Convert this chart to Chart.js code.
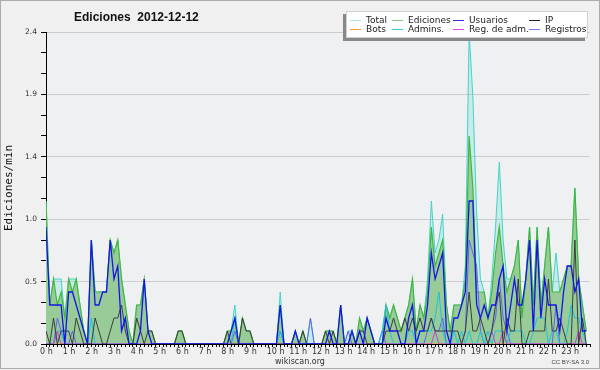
<!DOCTYPE html>
<html>
<head>
<meta charset="utf-8">
<script src="https://cdn.jsdelivr.net/npm/chart.js@4.4.1/dist/chart.umd.min.js"></script>
<style>
  html, body { margin: 0; padding: 0; background: #f0f0f0; }
  #wrap { position: relative; width: 600px; height: 370px; overflow: hidden; background: #f0f0f0; }
  #c { position: absolute; left: 0; top: 0; }
  #title { position: absolute; left: 74px; top: 10px; font: bold 12px "Liberation Sans", Arial, sans-serif; color: #111; white-space: pre; line-height: 14px; }
  #legend { position: absolute; left: 346px; top: 11px; width: 242px; height: 27px; background: #fff; border: 1px solid #d0d0d0; box-shadow: -3px 3px 0 #888; box-sizing: border-box; }
  .li { position: absolute; height: 10px; font: 9px "DejaVu Sans", sans-serif; color: #222; line-height: 10px; white-space: nowrap; }
  .li span.sw { position: absolute; left: 0; top: 5px; width: 11px; height: 1px; }
  .li span.tx { position: absolute; left: 16px; top: 0; }
  #foot { position: absolute; left: 0; width: 600px; top: 356px; text-align: center; font: 8px "DejaVu Sans", sans-serif; color: #333; line-height: 12px; }
  #cc { position: absolute; right: 11px; top: 357px; font: 6px "Liberation Sans", Arial, sans-serif; color: #444; line-height: 10px; }
  #frame { position: absolute; left: 0; top: 0; width: 600px; height: 369px; border: 1px solid #ababab; box-sizing: border-box; pointer-events: none; }
</style>
</head>
<body>
<div id="wrap">
  <canvas id="c" width="600" height="370"></canvas>
  <div id="title">Ediciones  2012-12-12</div>
  <div id="legend"></div>
  <div id="foot">wikiscan.org</div>
  <div id="cc">CC BY-SA 3.0</div>
  <div id="frame"></div>
</div>
<script>
// ---- categories / tick labels ----
const hourLabels = ["0 h","1 h","2 h","3 h","4 h","5 h","6 h","7 h","8 h","9 h","10 h","11 h",
  "12 h","13 h","14 h","15 h","16 h","17 h","18 h","19 h","20 h","21 h","22 h","23 h"];
const yTickLabels = ["0.0","0.5","1.0","1.4","1.9","2.4"];
const slotMinutes = Array.from({length: 144}, (_, i) => i * 10); // one slot every 10 minutes

// ---- series (edits per minute, one value per 10-minute slot, 6 per hour) ----
const total = [
  1.1,0.3,0.5,0.5,0.5,0.2,  0.5,0.5,0.5,0.3,0.1,0.0,  0.8,0.4,0.4,0.4,0.4,0.8,  0.7,0.8,0.5,0.3,0.1,0.0,
  0.3,0.3,0.5,0.1,0.1,0.0,  0.0,0.0,0.0,0.0,0.0,0.1,  0.1,0.0,0.0,0.0,0.0,0.0,  0.0,0.0,0.0,0.0,0.0,0.0,
  0.1,0.1,0.3,0.0,0.2,0.1,  0.1,0.0,0.0,0.0,0.0,0.0,  0.0,0.0,0.4,0.0,0.0,0.0,  0.1,0.0,0.1,0.0,0.2,0.0,
  0.0,0.0,0.1,0.1,0.1,0.0,  0.3,0.0,0.1,0.1,0.0,0.2,  0.1,0.2,0.1,0.0,0.0,0.1,  0.3,0.2,0.3,0.2,0.1,0.2,
  0.3,0.5,0.1,0.3,0.2,0.5,  1.1,0.7,0.8,1.0,0.3,0.1,  0.3,0.3,0.3,0.6,2.4,1.9,  1.0,0.5,0.4,0.2,0.5,0.9,
  1.4,0.8,0.5,0.5,0.6,0.8,  0.2,0.5,0.9,0.3,0.9,0.3,  0.6,0.9,0.4,0.7,0.4,0.5,  0.6,0.6,1.2,0.5,0.3,0.1
];
const ediciones = [
  1.1,0.3,0.5,0.3,0.4,0.2,  0.5,0.4,0.5,0.3,0.1,0.0,  0.8,0.4,0.4,0.4,0.4,0.8,  0.7,0.8,0.5,0.3,0.1,0.0,
  0.3,0.3,0.5,0.1,0.1,0.0,  0.0,0.0,0.0,0.0,0.0,0.1,  0.1,0.0,0.0,0.0,0.0,0.0,  0.0,0.0,0.0,0.0,0.0,0.0,
  0.1,0.1,0.2,0.0,0.2,0.1,  0.1,0.0,0.0,0.0,0.0,0.0,  0.0,0.0,0.3,0.0,0.0,0.0,  0.1,0.0,0.1,0.0,0.0,0.0,
  0.0,0.0,0.1,0.1,0.1,0.0,  0.3,0.0,0.0,0.1,0.0,0.2,  0.1,0.2,0.1,0.0,0.0,0.0,  0.3,0.2,0.3,0.2,0.1,0.2,
  0.3,0.5,0.1,0.3,0.2,0.4,  0.9,0.6,0.7,0.8,0.3,0.1,  0.3,0.3,0.3,0.5,1.6,1.2,  0.4,0.4,0.4,0.2,0.4,0.7,
  0.9,0.6,0.4,0.5,0.6,0.8,  0.2,0.5,0.9,0.3,0.9,0.3,  0.6,0.9,0.4,0.4,0.4,0.5,  0.6,0.6,1.2,0.5,0.3,0.1
];
const usuarios = [
  0.9,0.3,0.3,0.3,0.3,0.0,  0.4,0.4,0.3,0.2,0.1,0.0,  0.8,0.3,0.3,0.4,0.4,0.8,  0.5,0.6,0.1,0.2,0.0,0.0,
  0.0,0.1,0.5,0.1,0.0,0.0,  0.0,0.0,0.0,0.0,0.0,0.0,  0.0,0.0,0.0,0.0,0.0,0.0,  0.0,0.0,0.0,0.0,0.0,0.0,
  0.0,0.1,0.2,0.0,0.0,0.0,  0.0,0.0,0.0,0.0,0.0,0.0,  0.0,0.0,0.3,0.0,0.0,0.0,  0.1,0.0,0.0,0.0,0.0,0.0,
  0.0,0.0,0.0,0.1,0.0,0.0,  0.3,0.0,0.0,0.1,0.0,0.1,  0.0,0.2,0.1,0.0,0.0,0.0,  0.2,0.1,0.1,0.1,0.0,0.0,
  0.2,0.3,0.0,0.1,0.1,0.3,  0.7,0.5,0.6,0.7,0.1,0.0,  0.2,0.2,0.3,0.4,1.1,1.1,  0.3,0.2,0.3,0.2,0.3,0.3,
  0.5,0.6,0.1,0.3,0.5,0.3,  0.3,0.5,0.8,0.1,0.8,0.2,  0.5,0.3,0.3,0.3,0.1,0.4,  0.6,0.6,0.4,0.5,0.1,0.1
];
const ip = [
  0.1,0.0,0.2,0.0,0.1,0.1,  0.1,0.0,0.2,0.1,0.0,0.0,  0.0,0.2,0.1,0.0,0.0,0.1,  0.2,0.2,0.3,0.1,0.0,0.0,
  0.2,0.1,0.0,0.1,0.1,0.0,  0.0,0.0,0.0,0.0,0.0,0.1,  0.1,0.0,0.0,0.0,0.0,0.0,  0.0,0.0,0.0,0.0,0.0,0.0,
  0.1,0.0,0.0,0.0,0.2,0.1,  0.1,0.0,0.0,0.0,0.0,0.0,  0.0,0.0,0.0,0.0,0.0,0.0,  0.0,0.0,0.1,0.0,0.0,0.0,
  0.0,0.0,0.1,0.0,0.1,0.0,  0.0,0.0,0.0,0.0,0.0,0.1,  0.1,0.0,0.0,0.0,0.0,0.0,  0.1,0.1,0.2,0.1,0.1,0.2,
  0.1,0.2,0.1,0.2,0.1,0.1,  0.2,0.1,0.1,0.1,0.1,0.1,  0.1,0.1,0.0,0.1,0.4,0.1,  0.1,0.2,0.1,0.0,0.1,0.3,
  0.4,0.0,0.2,0.1,0.1,0.5,  0.0,0.0,0.1,0.1,0.1,0.1,  0.1,0.5,0.1,0.1,0.2,0.1,  0.0,0.0,0.8,0.0,0.2,0.0
];
const bots = [
  0,0,0,0,0,0, 0,0,0,0,0,0, 0,0,0,0,0,0, 0,0,0,0,0,0, 0,0,0,0,0,0, 0,0,0,0,0,0,
  0,0,0,0,0,0, 0,0,0,0,0,0, 0,0,0,0,0,0, 0,0,0,0,0,0, 0,0,0,0,0,0, 0,0,0,0,0,0,
  0,0,0,0,0,0, 0,0,0,0,0,0, 0,0,0,0,0,0, 0,0,0,0,0,0, 0,0,0,0,0,0, 0,0,0,0,0,0,
  0,0,0,0,0,0, 0,0,0,0,0,0, 0,0,0,0,0,0, 0,0,0,0,0,0, 0,0,0,0,0,0, 0,0,0,0,0,0
];
const admins = [
  0.0,0.0,0.0,0.1,0.1,0.0,  0.0,0.0,0.0,0.0,0.0,0.0,  0.2,0.0,0.0,0.0,0.0,0.0,  0.0,0.0,0.0,0.0,0.0,0.0,
  0.0,0.0,0.0,0.0,0.0,0.0,  0.0,0.0,0.0,0.0,0.0,0.0,  0.0,0.0,0.0,0.0,0.0,0.0,  0.0,0.0,0.0,0.0,0.0,0.0,
  0.0,0.0,0.2,0.0,0.0,0.0,  0.0,0.0,0.0,0.0,0.0,0.0,  0.0,0.0,0.1,0.0,0.0,0.0,  0.0,0.0,0.0,0.0,0.0,0.0,
  0.0,0.0,0.0,0.0,0.0,0.0,  0.0,0.0,0.0,0.0,0.0,0.0,  0.0,0.0,0.0,0.0,0.0,0.1,  0.3,0.1,0.0,0.0,0.0,0.0,
  0.1,0.1,0.0,0.1,0.1,0.1,  0.1,0.2,0.4,0.1,0.0,0.0,  0.1,0.0,0.1,0.0,0.1,0.0,  0.0,0.1,0.0,0.1,0.0,0.1,
  0.1,0.1,0.0,0.1,0.1,0.1,  0.1,0.0,0.0,0.1,0.2,0.2,  0.2,0.0,0.1,0.1,0.0,0.0,  0.1,0.3,0.2,0.2,0.1,0.0
];
const regAdm = [
  0,0,0,0.1,0,0, 0,0,0,0,0,0, 0,0,0,0,0,0, 0,0,0,0,0,0, 0,0,0,0,0,0, 0,0,0,0,0,0,
  0,0,0,0,0,0, 0,0,0,0,0,0, 0,0,0,0,0,0, 0,0,0,0,0,0, 0,0,0,0,0,0, 0,0,0,0,0,0,
  0,0,0,0,0,0, 0,0,0,0,0,0, 0,0,0,0,0,0, 0,0,0,0,0,0, 0,0,0,0,0,0, 0,0.1,0,0,0,0,
  0,0,0,0,0,0, 0,0,0,0,0.1,0, 0,0.1,0,0,0,0, 0,0,0,0,0,0, 0,0,0,0,0,0, 0,0,0,0.1,0,0
];
const registros = [
  0.0,0.0,0.0,0.2,0.1,0.0,  0.0,0.1,0.0,0.0,0.0,0.0,  0.0,0.0,0.0,0.0,0.0,0.0,  0.0,0.0,0.0,0.0,0.0,0.0,
  0.0,0.0,0.0,0.0,0.0,0.0,  0.0,0.0,0.0,0.0,0.0,0.0,  0.0,0.0,0.0,0.0,0.0,0.0,  0.0,0.0,0.0,0.0,0.0,0.0,
  0.0,0.0,0.1,0.0,0.0,0.0,  0.0,0.0,0.0,0.0,0.0,0.0,  0.0,0.0,0.1,0.0,0.0,0.0,  0.0,0.0,0.0,0.0,0.2,0.0,
  0.0,0.0,0.0,0.0,0.0,0.0,  0.0,0.0,0.1,0.0,0.0,0.0,  0.0,0.0,0.0,0.0,0.0,0.1,  0.0,0.0,0.0,0.0,0.0,0.0,
  0.0,0.0,0.0,0.0,0.0,0.1,  0.2,0.1,0.1,0.2,0.0,0.0,  0.0,0.0,0.0,0.1,0.8,0.7,  0.6,0.1,0.0,0.0,0.1,0.2,
  0.5,0.2,0.1,0.0,0.0,0.0,  0.0,0.0,0.0,0.0,0.0,0.0,  0.0,0.0,0.0,0.3,0.0,0.0,  0.0,0.0,0.0,0.0,0.0,0.0
];

// ---- series styling ----
const seriesNames   = ["Total","Ediciones","Usuarios","IP","Bots","Admins.","Reg. de adm.","Registros"];
const seriesData    = [total, ediciones, usuarios, ip, bots, admins, regAdm, registros];
const lineColors    = ["#44d4c8","#40b840","#1414e6","#3c3c3c","#ffa030","#1cc4dc","#d03ce0","#6262f4"];
const legendColors  = ["#a8e8e4","#80cc80","#3030e0","#222222","#ffa030","#30d0e0","#e040f0","#7878ff"];
const lineWidths    = [1, 1.2, 1.3, 1, 1, 1, 1, 1];
const drawOrder     = [9, 8, 1, 2, 7, 4, 3, 5];
const fills         = ["rgba(68,212,200,0.22)", "rgb(152,203,152)", null, null, null, null, null, null];

const datasets = seriesNames.map((name, k) => ({
  label: name,
  data: seriesData[k].map((v, i) => ({ x: slotMinutes[i], y: v })),
  borderColor: lineColors[k],
  borderWidth: lineWidths[k],
  backgroundColor: fills[k] || lineColors[k],
  fill: fills[k] ? 'origin' : false,
  order: drawOrder[k],
  pointRadius: 0,
  tension: 0
}));

// ---- legend (HTML, 4 columns x 2 rows) ----
const legendCols = [4, 46, 107, 183];
const legendRows = [4, 13];
const legendEl = document.getElementById('legend');
const legendLayout = [[0,4],[1,5],[2,6],[3,7]];
legendLayout.forEach((pair, col) => {
  pair.forEach((k, row) => {
    const d = document.createElement('div');
    d.className = 'li';
    d.style.left = (legendCols[col] - 1) + 'px';
    d.style.top = (legendRows[row] - 1) + 'px';
    d.innerHTML = '<span class="sw" style="background:' + legendColors[k] + '"></span><span class="tx"></span>';
    d.querySelector('.tx').textContent = seriesNames[k];
    legendEl.appendChild(d);
  });
});

const bgPlugin = {
  id: 'bg',
  beforeDraw(chart) {
    const { ctx, chartArea: a } = chart;
    ctx.save();
    ctx.fillStyle = '#f0f0f0';
    ctx.fillRect(0, 0, chart.width, chart.height);
    ctx.fillStyle = '#eef0f2';
    ctx.fillRect(a.left, a.top, a.right - a.left, a.bottom - a.top);
    ctx.restore();
  }
};

new Chart(document.getElementById('c'), {
  type: 'line',
  data: { datasets },
  options: {
    responsive: false,
    animation: false,
    devicePixelRatio: 1,
    layout: { padding: { top: 32, right: 10, left: 0, bottom: 0 } },
    plugins: { legend: { display: false }, tooltip: { enabled: false }, title: { display: false } },
    scales: {
      x: {
        type: 'linear', min: 0, max: 1440, z: 1,
        afterFit: (s) => { s.height = 26; },
        grid: { drawOnChartArea: false, color: '#000', tickLength: 3 },
        border: { color: '#000', width: 1 },
        ticks: {
          stepSize: 10, autoSkip: false, maxRotation: 0, minRotation: 0,
          align: 'start', labelOffset: -6, padding: 0,
          color: '#333', font: { family: 'DejaVu Sans', size: 8 },
          callback: (v) => (v % 60 === 0 && v < 1440) ? hourLabels[v / 60] : ''
        }
      },
      y: {
        type: 'linear', min: 0, max: 2.4,
        afterFit: (s) => { s.width = 46; },
        grid: {
          color: (c) => (c.index % 3 === 0 ? '#cdcdcd' : 'rgba(0,0,0,0)'),
          tickColor: '#000', tickLength: 5
        },
        border: { color: '#000', width: 1 },
        ticks: {
          stepSize: 0.16, autoSkip: false, padding: 4,
          color: '#333', font: { family: 'DejaVu Sans', size: 7.5 },
          callback: (v, i) => (i % 3 === 0 ? yTickLabels[i / 3] : '')
        },
        title: {
          display: true, text: 'Ediciones/min', color: '#111',
          font: { family: 'DejaVu Sans Mono', size: 11 },
          padding: { top: 3, bottom: 0 }
        }
      }
    }
  },
  plugins: [bgPlugin]
});
</script>
</body>
</html>
